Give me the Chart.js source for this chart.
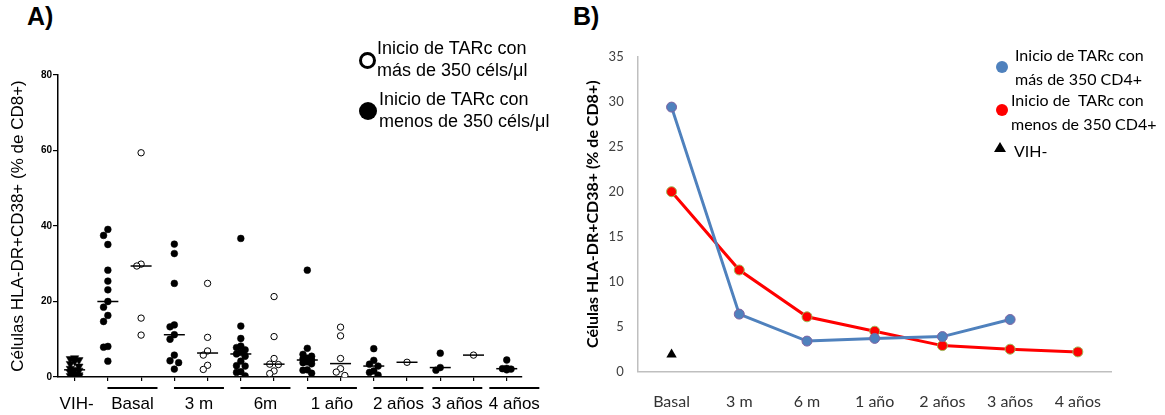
<!DOCTYPE html>
<html lang="es">
<head>
<meta charset="utf-8">
<title>Células HLA-DR+CD38+ tras inicio de TARc</title>
<script src="https://cdn.jsdelivr.net/npm/chart.js@4.4.1/dist/chart.umd.min.js"></script>
<style>
  body { margin: 0; background: #fff; width: 1165px; height: 415px; position: relative; overflow: hidden; font-family: "Liberation Sans", Arial, sans-serif; }
  canvas { position: absolute; top: 0; }
  #chartA { left: 0; }
  #chartB { left: 560px; }
  .panel { position: absolute; top: 2px; font-weight: bold; font-size: 25px; }
  .legA { position: absolute; font-size: 18px; line-height: 22px; white-space: pre; color: #000; }
  .legB { position: absolute; font-family: Lato, "Liberation Sans", sans-serif; font-size: 16px; line-height: 24px; white-space: pre; color: #000; }
  .dot { position: absolute; border-radius: 50%; box-sizing: border-box; }
  .tri { position: absolute; width: 0; height: 0; border-left: 6px solid transparent; border-right: 6px solid transparent; border-bottom: 10px solid #000; }
</style>
</head>
<body>
<div class="panel" style="left:27px">A)</div>
<div class="panel" style="left:573px">B)</div>

<canvas id="chartA" width="560" height="415"></canvas>
<canvas id="chartB" width="605" height="415"></canvas>

<!-- leyenda panel A -->
<div class="dot" style="left:359px; top:52px; width:17px; height:17px; border:3.5px solid #000; background:#fff"></div>
<div class="legA" style="left:377px; top:37px">Inicio de TARc con
más de 350 céls/μl</div>
<div class="dot" style="left:359px; top:102px; width:18px; height:18px; background:#000"></div>
<div class="legA" style="left:379px; top:88px">Inicio de TARc con
menos de 350 céls/μl</div>

<!-- leyenda panel B -->
<div class="dot" style="left:996px; top:61px; width:12px; height:12px; background:#4F81BD"></div>
<div class="legB" style="left:1015px; top:43px">Inicio de TARc con
más de 350 CD4+</div>
<div class="dot" style="left:996px; top:104px; width:12px; height:12px; background:#FF0000"></div>
<div class="legB" style="left:1011px; top:88px">Inicio de  TARc con
menos de 350 CD4+</div>
<div class="tri" style="left:994px; top:142px"></div>
<div class="legB" style="left:1014px; top:139px">VIH-</div>

<script>
// ---- Panel A: valores individuales (% de CD8+) ----
const vihNegativos = [5.0, 4.8, 4.5, 4.2, 3.5, 2.8, 2.2, 1.9, 1.7, 1.2, 0.8, 0.5, 0.3, 0.2, 0.1];
const tiempos = ['Basal', '3 m', '6m', '1 año', '2 años', '3 años', '4 años'];
// inicio con menos de 350 céls/μl (puntos negros)
const menos350 = [
  [39.1, 37.5, 35.1, 28.3, 25.4, 23.1, 20.0, 18.5, 16.3, 14.7, 8.1, 7.9, 4.2],
  [35.2, 32.7, 24.8, 13.8, 13.3, 11.2, 10.0, 5.8, 4.3, 3.8, 2.1],
  [36.7, 13.5, 10.2, 8.2, 7.8, 7.2, 6.5, 6.1, 5.5, 4.2, 3.0, 2.9, 1.4, 1.2, 0.3],
  [28.3, 7.6, 6.0, 5.5, 5.0, 4.8, 4.5, 4.0, 3.8, 3.5, 1.9, 1.8, 1.0],
  [7.5, 4.4, 3.4, 2.9, 1.6, 1.2, 0.5],
  [6.3, 2.5, 1.8],
  [4.5, 2.3, 2.2, 2.1, 1.9]
];
// inicio con más de 350 céls/μl (puntos blancos)
const mas350 = [
  [59.4, 29.9, 29.4, 15.6, 11.1],
  [24.8, 10.5, 6.9, 5.8, 3.1, 2.0],
  [21.3, 10.7, 4.9, 3.4, 3.3, 1.6, 0.9],
  [13.2, 10.9, 4.9, 2.2, 1.3, 0.4],
  [3.9],
  [5.8],
  []
];
const ticksA = [0, 20, 40, 60, 80];

// ---- Panel B: medianas ----
const etiquetasB = ['Basal', '3 m', '6 m', '1 año', '2 años', '3 años', '4 años'];
const mas350CD4 = [29.4, 6.4, 3.4, 3.7, 3.9, 5.8, null];
const menos350CD4 = [20.0, 11.3, 6.1, 4.5, 2.9, 2.5, 2.2];
const vihNegB = [1.9, null, null, null, null, null, null];

const tituloY = 'Células HLA-DR+CD38+ (% de CD8+)';

// columna 0 = VIH-, luego negro/blanco alternando por tiempo
const colMenos = t => 1 + 2 * t;
const colMas = t => 2 + 2 * t;

// reparte horizontalmente los puntos que se solapan (como mucho un paso a cada lado)
const PX_X = 33.2, PX_Y = 302 / 80, PASO = 4.3, DIAM = 6.5;
function enjambre(valores, col) {
  const puestos = [];
  [...valores].sort((a, b) => b - a).forEach(v => {
    let mejor = 0, mejorDist = -1;
    for (const k of [0, -1, 1]) {
      let d = Infinity;
      puestos.forEach(p => { d = Math.min(d, Math.hypot(p.dx - k * PASO, (p.y - v) * PX_Y)); });
      if (d >= DIAM) { mejor = k; break; }
      if (d > mejorDist) { mejor = k; mejorDist = d; }
    }
    puestos.push({ dx: mejor * PASO, y: v });
  });
  return puestos.map(p => ({ x: col + p.dx / PX_X, y: p.y }));
}

function mediana(a) {
  const s = [...a].sort((x, y) => x - y);
  const m = Math.floor(s.length / 2);
  return s.length % 2 ? s[m] : (s[m - 1] + s[m]) / 2;
}

const columnas = [{ col: 0, vals: vihNegativos }];
tiempos.forEach((t, i) => {
  columnas.push({ col: colMenos(i), vals: menos350[i] });
  if (mas350[i].length) columnas.push({ col: colMas(i), vals: mas350[i] });
});

// lineas de mediana en cada columna
const medianas = {
  id: 'medianas',
  afterDatasetsDraw(chart) {
    const { ctx, scales: { x, y } } = chart;
    ctx.save();
    ctx.strokeStyle = '#000';
    ctx.lineWidth = 1.5;
    columnas.forEach(c => {
      const px = x.getPixelForValue(c.col), py = y.getPixelForValue(mediana(c.vals));
      ctx.beginPath();
      ctx.moveTo(px - 10.5, py);
      ctx.lineTo(px + 10.5, py);
      ctx.stroke();
    });
    ctx.restore();
  }
};

// etiquetas de grupo con su subrayado bajo el eje x
const gruposEjeX = {
  id: 'gruposEjeX',
  afterDraw(chart) {
    const { ctx, scales: { x }, chartArea } = chart;
    ctx.save();
    ctx.font = '17px "Liberation Sans", Arial, sans-serif';
    ctx.fillStyle = '#000';
    ctx.textAlign = 'center';
    ctx.textBaseline = 'middle';
    const yTexto = chartArea.bottom + 27, yLinea = chartArea.bottom + 11;
    ctx.fillText('VIH-', x.getPixelForValue(0) + 2, yTexto);

    const items = tiempos.map((t, i) => {
      const cols = mas350[i].length ? [colMenos(i), colMas(i)] : [colMenos(i)];
      const pxs = cols.map(c => x.getPixelForValue(c));
      const centro = pxs.reduce((a, b) => a + b, 0) / pxs.length + (cols.length > 1 ? 8 : 0);
      return { t, centro, w: ctx.measureText(t).width };
    });
    for (let i = 1; i < items.length; i++) {
      const a = items[i - 1], b = items[i];
      const solape = (a.centro + a.w / 2 + 6) - (b.centro - b.w / 2);
      if (solape > 0) { a.centro -= solape / 2; b.centro += solape / 2; }
    }
    ctx.lineWidth = 2;
    ctx.strokeStyle = '#000';
    items.forEach(it => {
      ctx.beginPath();
      ctx.moveTo(it.centro - 25, yLinea);
      ctx.lineTo(it.centro + 25, yLinea);
      ctx.stroke();
      ctx.fillText(it.t, it.centro, yTexto);
    });
    ctx.restore();
  }
};

const puntosMenos = menos350.flatMap((v, i) => enjambre(v, colMenos(i)));
const puntosMas = mas350.flatMap((v, i) => enjambre(v, colMas(i)));

new Chart(document.getElementById('chartA'), {
  type: 'scatter',
  data: {
    datasets: [
      { label: 'VIH-', data: enjambre(vihNegativos, 0), pointStyle: 'triangle', rotation: 180,
        pointRadius: 4.8, backgroundColor: '#000', borderColor: '#000', borderWidth: 0.5 },
      { label: 'menos de 350', data: puntosMenos, pointRadius: 3.4, backgroundColor: '#000', borderColor: '#000', borderWidth: 0.5 },
      { label: 'más de 350', data: puntosMas, pointRadius: 3.2, backgroundColor: '#fff', borderColor: '#000', borderWidth: 1 }
    ]
  },
  options: {
    responsive: false,
    animation: false,
    devicePixelRatio: 1,
    layout: { padding: { top: 75, right: 38.3, left: 0, bottom: 0 } },
    plugins: { legend: { display: false }, tooltip: { enabled: false } },
    scales: {
      x: {
        type: 'linear', min: -0.5, max: 13.45,
        afterBuildTicks: s => { s.ticks = Array.from({ length: 14 }, (_, i) => ({ value: i })); },
        afterFit: s => { s.height = 38; },
        ticks: { display: false },
        grid: { drawOnChartArea: false, drawTicks: true, tickLength: 4, color: '#000', lineWidth: 1.2 },
        border: { color: '#000', width: 1.5, dash: [2, 1] }
      },
      y: {
        min: 0, max: 80,
        afterBuildTicks: s => { s.ticks = ticksA.map(v => ({ value: v })); },
        afterFit: s => { s.width = 58; },
        ticks: { padding: 1, color: '#000', font: { family: '"Liberation Sans", Arial', size: 10, weight: 'bold' } },
        grid: { drawOnChartArea: false, drawTicks: true, tickLength: 5, color: '#000', lineWidth: 1.2 },
        border: { color: '#000', width: 1.5, dash: [2, 1] },
        title: { display: true, text: tituloY, color: '#000', padding: { top: 8 },
                 font: { family: '"Liberation Sans", Arial', size: 17 } }
      }
    }
  },
  plugins: [medianas, gruposEjeX]
});

// ---- Panel B ----
const fuenteB = 'Lato, "Liberation Sans", sans-serif';
new Chart(document.getElementById('chartB'), {
  type: 'line',
  data: {
    labels: etiquetasB,
    datasets: [
      { label: 'VIH-', data: vihNegB, showLine: false, pointStyle: 'triangle', pointRadius: 6,
        backgroundColor: '#000', borderColor: '#000', pointBorderWidth: 0 },
      { label: 'Inicio de TARc con más de 350 CD4+', data: mas350CD4, borderColor: '#4F81BD', borderWidth: 3,
        pointRadius: 5, pointBackgroundColor: '#4F81BD', pointBorderColor: '#8064A2', pointBorderWidth: 1, tension: 0 },
      { label: 'Inicio de TARc con menos de 350 CD4+', data: menos350CD4, borderColor: '#FF0000', borderWidth: 3,
        pointRadius: 5, pointBackgroundColor: '#FF0000', pointBorderColor: '#9BBB59', pointBorderWidth: 1, tension: 0 }
    ]
  },
  options: {
    responsive: false,
    animation: false,
    devicePixelRatio: 1,
    layout: { padding: { top: 56.7, right: 53.3, left: 0, bottom: 0 } },
    plugins: { legend: { display: false }, tooltip: { enabled: false } },
    scales: {
      x: {
        offset: true,
        afterFit: s => { s.height = 43.3; },
        ticks: { padding: 21, color: '#333', font: { family: fuenteB, size: 16 } },
        grid: { display: false, drawTicks: false },
        border: { color: '#BFBFBF', width: 1.5 }
      },
      y: {
        min: 0, max: 35,
        afterFit: s => { s.width = 77.7; },
        ticks: { stepSize: 5, padding: 14, color: '#404040', font: { family: fuenteB, size: 13 } },
        grid: { display: false, drawTicks: false },
        border: { color: '#BFBFBF', width: 1.5 },
        title: { display: true, text: tituloY, color: '#000', padding: { top: 23 },
                 font: { family: fuenteB, size: 16, weight: 'bold' } }
      }
    }
  }
});
</script>
</body>
</html>
